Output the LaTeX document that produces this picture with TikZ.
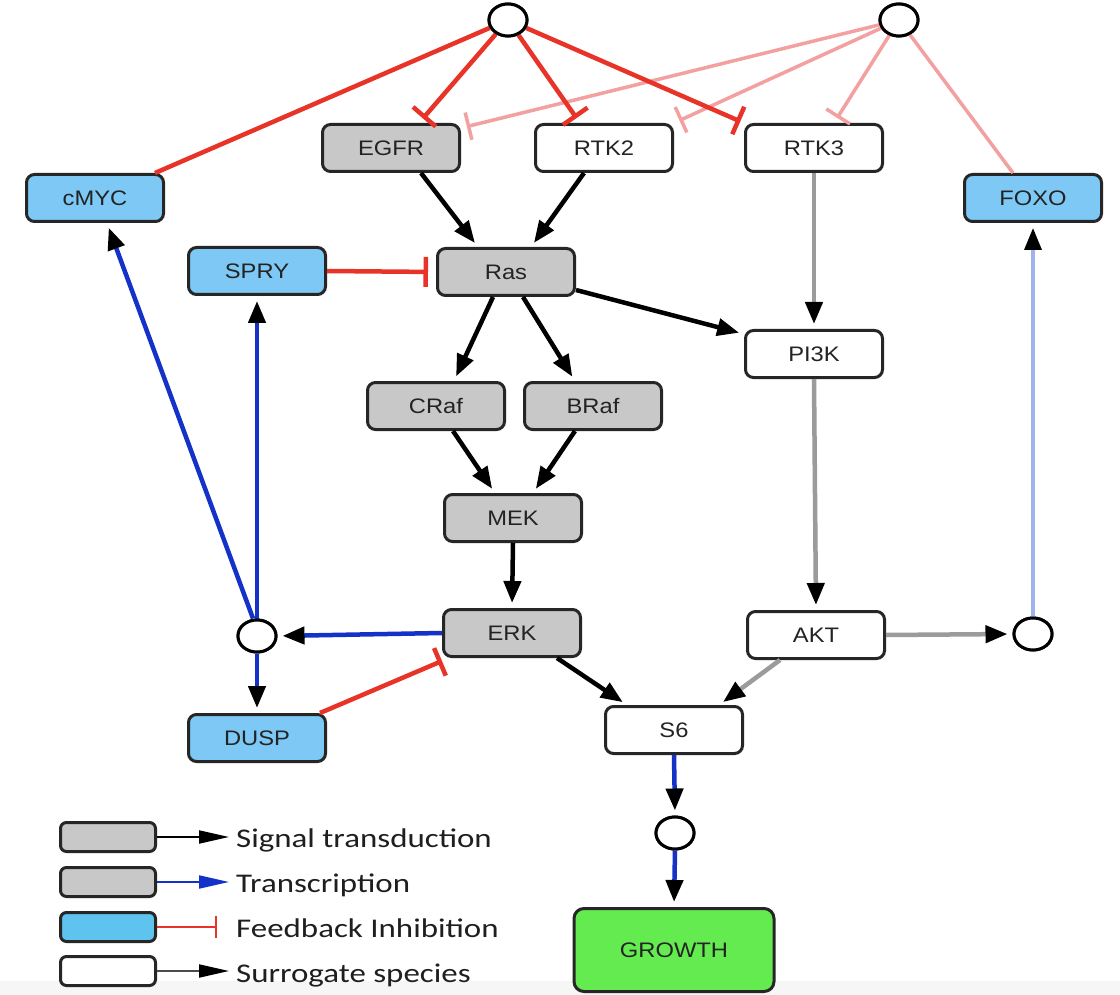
\documentclass[tikz,border=0pt]{standalone}
\usepackage{fontspec}
\setmainfont{Liberation Sans}
\newfontfamily\nodefont{Liberation Sans}[FakeStretch=1.13]
\newfontfamily\legfont{Carlito}[FakeStretch=1.22]
\usetikzlibrary{arrows.meta,shapes.geometric,calc}
\definecolor{sigc}{RGB}{200,200,200}
\definecolor{fbc}{RGB}{125,200,245}
\definecolor{legfbc}{RGB}{95,195,240}
\definecolor{growc}{RGB}{100,235,80}
\definecolor{redc}{RGB}{232,52,40}
\definecolor{pinkc}{RGB}{242,160,160}
\definecolor{bluec}{RGB}{20,50,200}
\definecolor{lbluec}{RGB}{160,180,235}
\definecolor{grayc}{RGB}{155,155,155}
\definecolor{txtc}{RGB}{35,35,35}
\tikzset{
  box/.style={draw=black!85, line width=3pt, rounded corners=8pt, minimum width=137pt,
    minimum height=47pt, inner sep=0pt, font=\nodefont\fontsize{21}{25}\selectfont, text=txtc},
  sigbox/.style={box, fill=sigc},
  fbbox/.style={box, fill=fbc},
  surbox/.style={box, fill=white},
  growbox/.style={box, fill=growc, minimum width=200pt, minimum height=83pt, rounded corners=10pt},
  junc/.style={ellipse, draw=black, line width=3pt, fill=white, minimum width=38pt,
    minimum height=32pt, inner sep=0pt},
  act/.style={line width=4.5pt, draw=black, -{Triangle[length=22pt,width=17pt,color=black]}, shorten >=5pt},
  sur/.style={act, draw=grayc},
  trans/.style={act, draw=bluec},
  ltrans/.style={act, draw=lbluec, line width=3.5pt},
  inh/.style={line width=4.5pt, draw=redc, -{Bar[width=30pt,line width=4.5pt]}, shorten >=6pt},
  pinh/.style={line width=3.5pt, draw=pinkc, -{Bar[width=28pt,line width=3.5pt]}, shorten >=6pt},
  redline/.style={line width=4.5pt, draw=redc},
  pinkline/.style={line width=3.5pt, draw=pinkc},
  legbox/.style={draw=black!85, line width=3pt, rounded corners=6pt, minimum width=95pt,
    minimum height=29pt, inner sep=0pt},
  legarr/.style={line width=2pt, -{Triangle[length=30pt,width=13pt]}},
  legtxt/.style={anchor=base west, font=\legfont\fontsize{27}{31}\selectfont, text=black!88,
    inner sep=0pt}
}
\begin{document}
\begin{tikzpicture}[x=1pt,y=-1pt]
\useasboundingbox (0,0) rectangle (1120,995);
\fill[white] (0,0) rectangle (1120,995);
\fill[gray!7] (0,981) rectangle (1120,995);

% nodes
\node[junc] (top1) at (508,20) {};
\node[junc] (top2) at (899,20) {};
\node[sigbox] (EGFR) at (391,148) {EGFR};
\node[surbox] (RTK2) at (604,148) {RTK2};
\node[surbox] (RTK3) at (814,148) {RTK3};
\node[fbbox] (cMYC) at (95,198) {cMYC};
\node[fbbox] (FOXO) at (1033,198) {FOXO};
\node[fbbox] (SPRY) at (257,271) {SPRY};
\node[sigbox] (Ras) at (506,272) {Ras};
\node[surbox] (PI3K) at (814,354) {PI3K};
\node[sigbox] (CRaf) at (436,406) {CRaf};
\node[sigbox] (BRaf) at (593,406) {BRaf};
\node[sigbox] (MEK) at (513,518) {MEK};
\node[sigbox] (ERK) at (512,633) {ERK};
\node[surbox] (AKT) at (816,635) {AKT};
\node[junc] (jL) at (257,636) {};
\node[junc] (jR) at (1033,634) {};
\node[fbbox] (DUSP) at (257,738) {DUSP};
\node[surbox] (S6) at (674,730) {S6};
\node[junc] (jB) at (675,833) {};
\node[growbox] (GROWTH) at (674,950) {GROWTH};

% pink feedback (top2)
\draw[pinkline] ($(FOXO.north)+(-20,0)$) -- (top2);
\draw[pinh] (top2) -- ($(EGFR.north east)+(0,5)$);
\draw[pinh] (top2) -- (RTK2.north east);
\draw[pinh] (top2) -- ($(RTK3.north)+(20,0)$);

% red feedback (top1)
\draw[redline] (top1) -- ($(cMYC.north east)+(-10,0)$);
\draw[inh] (top1) -- ($(EGFR.north)+(28,0)$);
\draw[inh] (top1) -- ($(RTK2.north)+(-24,0)$);
\draw[inh, shorten >=4pt] (top1) -- (RTK3.north west);
\draw[inh, shorten >=8pt] (SPRY.east) -- (Ras.west);
\draw[inh, shorten >=0pt] ($(DUSP.north east)+(-7,0)$) -- ($(ERK.south west)+(0,3)$);

% signal transduction
\draw[act] ($(EGFR.south)+(30,0)$) -- ($(Ras.north)+(-28,0)$);
\draw[act] ($(RTK2.south)+(-20,0)$) -- ($(Ras.north)+(25,0)$);
\draw[act] ($(Ras.south)+(-13,0)$) -- ($(CRaf.north)+(18,0)$);
\draw[act] ($(Ras.south)+(17,0)$) -- ($(BRaf.north)+(-18,0)$);
\draw[act] ($(Ras.south east)+(0,-7)$) -- ($(PI3K.north west)+(0,5)$);
\draw[act] ($(CRaf.south)+(17,0)$) -- ($(MEK.north)+(-18,0)$);
\draw[act] ($(BRaf.south)+(-18,0)$) -- ($(MEK.north)+(20,0)$);
\draw[act] (MEK.south) -- (ERK.north);
\draw[act] ($(ERK.south)+(45,0)$) -- ($(S6.north)+(-47,0)$);

% surrogate
\draw[sur] (RTK3.south) -- (PI3K.north);
\draw[sur] (PI3K.south) -- (AKT.north);
\draw[sur] ($(AKT.south)+(-36,0)$) -- ($(S6.north)+(45,0)$);
\draw[sur] (AKT.east) -- (jR.west);

% transcription
\draw[trans] (ERK.west) -- (jL.east);
\draw[trans] (jL.north) -- (SPRY.south);
\draw[trans] ($(jL.north)+(-4,0)$) -- ($(cMYC.south)+(12,0)$);
\draw[trans] (jL.south) -- (DUSP.north);
\draw[trans] (S6.south) -- (jB.north);
\draw[trans] (jB.south) -- (GROWTH.north);
\draw[ltrans] (jR.north) -- (FOXO.south);

% redraw junctions on top
\foreach \j in {top1,top2,jL,jR,jB}
  \draw[line width=3pt, fill=white] (\j) ellipse (19pt and 16pt);

% legend
\node[legbox, fill=sigc] (lg1) at (108,837) {};
\node[legbox, fill=sigc] (lg2) at (108,882) {};
\node[legbox, fill=legfbc] (lg3) at (108,927) {};
\node[legbox, fill=white] (lg4) at (108,971) {};
\coordinate (le1) at (229,837);
\coordinate (le2) at (229,882);
\coordinate (le3) at (217,927);
\coordinate (le4) at (229,971);
\draw[legarr, draw=black] (lg1.east) -- (le1);
\draw[legarr, draw=bluec, -{Triangle[length=30pt,width=13pt,color=bluec]}] (lg2.east) -- (le2);
\draw[line width=2pt, draw=redc, -{Bar[width=22pt,line width=2.5pt]}] (lg3.east) -- (le3);
\draw[legarr, draw=black!70, -{Triangle[length=30pt,width=13pt,color=black]}] (lg4.east) -- (le4);
\node[legtxt] (t1) at (236,847) {Signal transduction};
\node[legtxt] (t2) at (236,892) {Transcription};
\node[legtxt] (t3) at (236,937) {Feedback Inhibition};
\node[legtxt] (t4) at (236,982) {Surrogate species};
\end{tikzpicture}
\end{document}
